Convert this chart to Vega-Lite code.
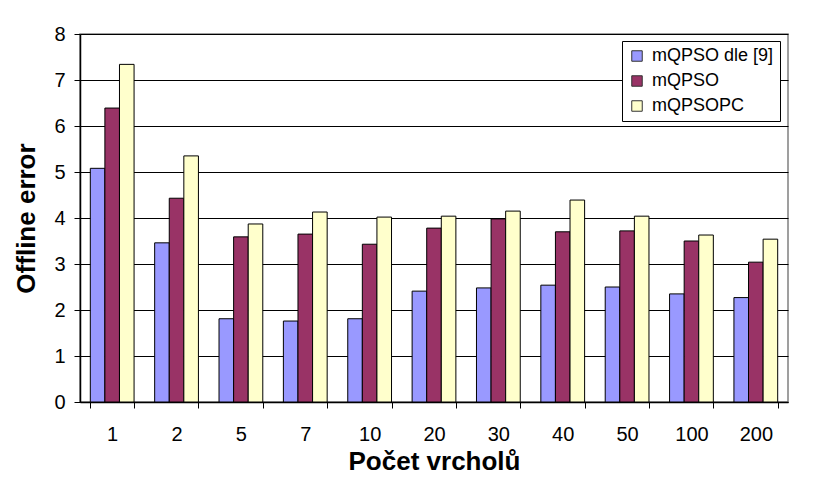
{
  "$schema": "https://vega.github.io/schema/vega-lite/v6.json",
  "width": 708,
  "height": 368,
  "autosize": {"type": "none"},
  "padding": {"left": 80, "top": 34, "right": 27, "bottom": 86},
  "background": "white",
  "config": {
    "font": "Liberation Sans",
    "view": {"stroke": "#808080", "strokeWidth": 1.5}
  },
  "data": {
    "values": [
      {"k": "1", "s": "mQPSO dle [9]", "v": 5.08},
      {"k": "1", "s": "mQPSO", "v": 6.39},
      {"k": "1", "s": "mQPSOPC", "v": 7.34},
      {"k": "2", "s": "mQPSO dle [9]", "v": 3.46},
      {"k": "2", "s": "mQPSO", "v": 4.43},
      {"k": "2", "s": "mQPSOPC", "v": 5.35},
      {"k": "5", "s": "mQPSO dle [9]", "v": 1.81},
      {"k": "5", "s": "mQPSO", "v": 3.59},
      {"k": "5", "s": "mQPSOPC", "v": 3.87},
      {"k": "7", "s": "mQPSO dle [9]", "v": 1.76},
      {"k": "7", "s": "mQPSO", "v": 3.65},
      {"k": "7", "s": "mQPSOPC", "v": 4.13},
      {"k": "10", "s": "mQPSO dle [9]", "v": 1.81},
      {"k": "10", "s": "mQPSO", "v": 3.43},
      {"k": "10", "s": "mQPSOPC", "v": 4.02},
      {"k": "20", "s": "mQPSO dle [9]", "v": 2.41},
      {"k": "20", "s": "mQPSO", "v": 3.78},
      {"k": "20", "s": "mQPSOPC", "v": 4.04},
      {"k": "30", "s": "mQPSO dle [9]", "v": 2.48},
      {"k": "30", "s": "mQPSO", "v": 3.98},
      {"k": "30", "s": "mQPSOPC", "v": 4.15},
      {"k": "40", "s": "mQPSO dle [9]", "v": 2.54},
      {"k": "40", "s": "mQPSO", "v": 3.70},
      {"k": "40", "s": "mQPSOPC", "v": 4.39},
      {"k": "50", "s": "mQPSO dle [9]", "v": 2.50},
      {"k": "50", "s": "mQPSO", "v": 3.72},
      {"k": "50", "s": "mQPSOPC", "v": 4.04},
      {"k": "100", "s": "mQPSO dle [9]", "v": 2.35},
      {"k": "100", "s": "mQPSO", "v": 3.50},
      {"k": "100", "s": "mQPSOPC", "v": 3.63},
      {"k": "200", "s": "mQPSO dle [9]", "v": 2.27},
      {"k": "200", "s": "mQPSO", "v": 3.04},
      {"k": "200", "s": "mQPSOPC", "v": 3.54}
    ]
  },
  "mark": {"type": "bar", "stroke": "black", "strokeWidth": 1},
  "encoding": {
    "x": {
      "field": "k",
      "type": "nominal",
      "sort": ["1", "2", "5", "7", "10", "20", "30", "40", "50", "100", "200"],
      "scale": {"paddingInner": 0.32, "paddingOuter": 0.16},
      "axis": {
        "title": "Počet vrcholů",
        "titleFontSize": 26,
        "titleFontWeight": "bold",
        "titleColor": "black",
        "titlePadding": 4,
        "labelAngle": 0,
        "labelFontSize": 20,
        "labelColor": "black",
        "labelPadding": 16,
        "tickBand": "extent",
        "tickSize": 6,
        "tickColor": "black",
        "domainColor": "black",
        "domainWidth": 1.5
      }
    },
    "y": {
      "field": "v",
      "type": "quantitative",
      "scale": {"domain": [0, 8]},
      "axis": {
        "title": "Offline error",
        "titleFontSize": 26,
        "titleFontWeight": "bold",
        "titleColor": "black",
        "titlePadding": 14,
        "values": [0, 1, 2, 3, 4, 5, 6, 7, 8],
        "labelFontSize": 20,
        "labelColor": "black",
        "labelPadding": 9,
        "tickSize": 6,
        "tickColor": "black",
        "grid": true,
        "gridColor": "black",
        "gridWidth": 1,
        "gridOpacity": 1,
        "domainColor": "black",
        "domainWidth": 1.5
      }
    },
    "xOffset": {
      "field": "s",
      "type": "nominal",
      "sort": ["mQPSO dle [9]", "mQPSO", "mQPSOPC"]
    },
    "color": {
      "field": "s",
      "type": "nominal",
      "sort": ["mQPSO dle [9]", "mQPSO", "mQPSOPC"],
      "scale": {
        "domain": ["mQPSO dle [9]", "mQPSO", "mQPSOPC"],
        "range": ["#9999FF", "#993366", "#FFFFCC"]
      },
      "legend": {
        "title": null,
        "orient": "none",
        "legendX": 542,
        "legendY": 7,
        "fillColor": "white",
        "strokeColor": "black",
        "padding": 6,
        "labelFontSize": 18,
        "labelColor": "black",
        "symbolType": "square",
        "symbolSize": 110,
        "symbolStrokeColor": "#333333",
        "symbolStrokeWidth": 1,
        "symbolOpacity": 1,
        "rowPadding": 7,
        "labelOffset": 6
      }
    }
  }
}
